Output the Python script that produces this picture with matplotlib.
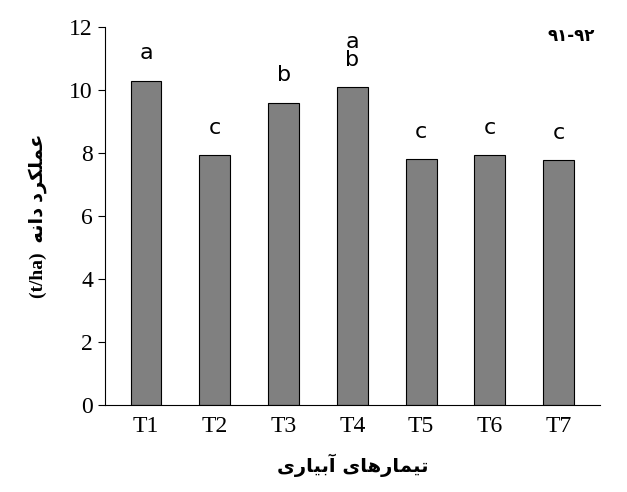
import matplotlib
matplotlib.use("Agg")
import matplotlib.pyplot as plt

treatments = ["T1", "T2", "T3", "T4", "T5", "T6", "T7"]
yields = [10.3, 7.93, 9.6, 10.1, 7.8, 7.93, 7.78]
letters = ["a", "c", "b", "a\nb", "c", "c", "c"]

y_title = "عملکرد دانه"
x_title = "تیمارهای آبیاری"
year_text = "۹۱-۹۲"

# minimal Arabic shaping: isolated, final, initial, medial
FORMS = {
    "ت": (0xFE95, 0xFE96, 0xFE97, 0xFE98),
    "ی": (0xFBFC, 0xFBFD, 0xFBFE, 0xFBFF),
    "م": (0xFEE1, 0xFEE2, 0xFEE3, 0xFEE4),
    "ه": (0xFEE9, 0xFEEA, 0xFEEB, 0xFEEC),
    "ب": (0xFE8F, 0xFE90, 0xFE91, 0xFE92),
    "ع": (0xFEC9, 0xFECA, 0xFECB, 0xFECC),
    "ل": (0xFEDD, 0xFEDE, 0xFEDF, 0xFEE0),
    "ک": (0xFB8E, 0xFB8F, 0xFB90, 0xFB91),
    "ن": (0xFEE5, 0xFEE6, 0xFEE7, 0xFEE8),
    "ا": (0xFE8D, 0xFE8E, None, None),
    "ر": (0xFEAD, 0xFEAE, None, None),
    "د": (0xFEA9, 0xFEAA, None, None),
    "آ": (0xFE81, 0xFE82, None, None),
}

def shape(s):
    out = []
    for i, ch in enumerate(s):
        if ch not in FORMS:
            out.append(ch)
            continue
        prev = s[i - 1] if i > 0 else ""
        nxt = s[i + 1] if i + 1 < len(s) else ""
        join_prev = prev in FORMS and FORMS[prev][2] is not None
        join_next = nxt in FORMS and FORMS[ch][2] is not None
        f = FORMS[ch]
        if join_prev and join_next:
            c = f[3]
        elif join_prev:
            c = f[1]
        elif join_next:
            c = f[2]
        else:
            c = f[0]
        out.append(chr(c))
    return "".join(out)[::-1]

fig, ax = plt.subplots(figsize=(6.27, 4.92), dpi=100)
fig.subplots_adjust(left=0.167, right=0.957, top=0.945, bottom=0.177)

x = range(len(treatments))
ax.bar(x, yields, width=0.45, color="#808080", edgecolor="black", linewidth=0.8)
for xi, v, lab in zip(x, yields, letters):
    ax.text(xi, v + 0.55, lab, ha="center", va="bottom", fontsize=16,
            family="DejaVu Sans", linespacing=0.85)

ax.set_xticks(list(x))
ax.set_xticklabels(treatments, family="Liberation Serif", fontsize=17)
ax.set_ylim(0, 12)
ax.set_yticks(range(0, 13, 2))
ax.set_yticklabels([str(t) for t in range(0, 13, 2)], family="Liberation Serif", fontsize=17)
ax.set_xlim(-0.6, 6.6)
for s in ["top", "right"]:
    ax.spines[s].set_visible(False)
ax.tick_params(axis="x", length=0, pad=8)
ax.tick_params(axis="y", direction="out", length=5)

ax.set_xlabel(shape(x_title), family="DejaVu Sans", fontsize=14, fontweight="bold", labelpad=12)
ax.set_ylabel("(t/ha)  " + shape(y_title), family=["Liberation Serif", "DejaVu Sans"],
              fontsize=14, fontweight="bold", labelpad=16)
ax.text(0.99, 12, year_text, transform=ax.get_yaxis_transform(), ha="right", va="top",
        family="DejaVu Sans", fontsize=12, fontweight="bold")

fig.savefig("out.png")
